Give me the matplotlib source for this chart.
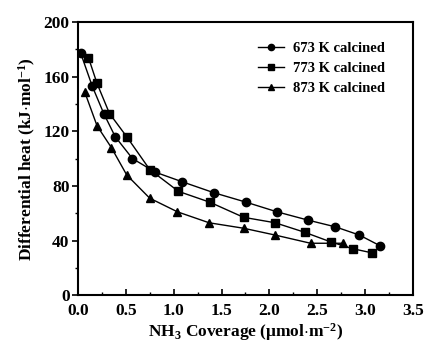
import matplotlib
matplotlib.use('Agg')
import matplotlib.pyplot as plt
from matplotlib.ticker import MultipleLocator

plt.rcParams['font.family'] = ['Liberation Serif', 'DejaVu Serif']
plt.rcParams['font.weight'] = 'bold'
plt.rcParams['axes.labelweight'] = 'bold'
plt.rcParams['mathtext.fontset'] = 'custom'
plt.rcParams['mathtext.rm'] = 'Liberation Serif:bold'
plt.rcParams['mathtext.it'] = 'Liberation Serif:bold'
plt.rcParams['mathtext.bf'] = 'Liberation Serif:bold'
plt.rcParams['mathtext.default'] = 'bf'

# 673 K calcined
x673 = [0.03, 0.15, 0.27, 0.39, 0.57, 0.81, 1.09, 1.42, 1.76, 2.08, 2.40, 2.69, 2.94, 3.16]
y673 = [177, 153, 133, 116, 100, 90, 83, 75, 68, 61, 55, 50, 44, 36]
# 773 K calcined
x773 = [0.11, 0.20, 0.33, 0.51, 0.75, 1.05, 1.38, 1.73, 2.06, 2.37, 2.64, 2.87, 3.07]
y773 = [174, 155, 133, 116, 92, 76, 68, 57, 53, 46, 39, 34, 31]
# 873 K calcined
x873 = [0.07, 0.20, 0.35, 0.51, 0.75, 1.04, 1.37, 1.73, 2.06, 2.43, 2.77]
y873 = [149, 124, 108, 88, 71, 61, 53, 49, 44, 38, 38]

fig = plt.figure(figsize=(4.28, 3.44), dpi=100)
ax = fig.add_axes([0.182, 0.142, 0.783, 0.794])

ax.plot(x673, y673, '-o', color='black', lw=1.0, ms=6, label='673 K calcined')
ax.plot(x773, y773, '-s', color='black', lw=1.0, ms=5.5, label='773 K calcined')
ax.plot(x873, y873, '-^', color='black', lw=1.0, ms=6, label='873 K calcined')

ax.set_xlim(0, 3.5)
ax.set_ylim(0, 200)
ax.xaxis.set_major_locator(MultipleLocator(0.5))
ax.xaxis.set_minor_locator(MultipleLocator(0.25))
ax.yaxis.set_major_locator(MultipleLocator(40))
ax.yaxis.set_minor_locator(MultipleLocator(20))
ax.tick_params(axis='x', which='both', direction='in', labelsize=12.5, pad=6)
ax.tick_params(axis='x', which='major', length=4, width=1.2)
ax.tick_params(axis='x', which='minor', length=2, width=1.0)
ax.tick_params(axis='y', which='both', direction='out', labelsize=12.5, pad=2)
ax.tick_params(axis='y', which='major', length=4, width=1.2)
ax.tick_params(axis='y', which='minor', length=2, width=1.0)
for s in ax.spines.values():
    s.set_linewidth(1.5)

ax.set_xlabel(r'NH$_3$ Coverage ($\mathregular{\mu}$mol$\cdot$m$^{-2}$)', fontsize=12.5, labelpad=1)
ax.set_ylabel(r'Differential heat (kJ$\cdot$mol$^{-1}$)', fontsize=12.5, labelpad=4)

ax.legend(loc='upper right', bbox_to_anchor=(0.955, 0.975), frameon=False, fontsize=10.5,
          handlelength=1.8, handletextpad=0.6, labelspacing=0.45, markerscale=0.75)

fig.savefig('out.png', dpi=100)
